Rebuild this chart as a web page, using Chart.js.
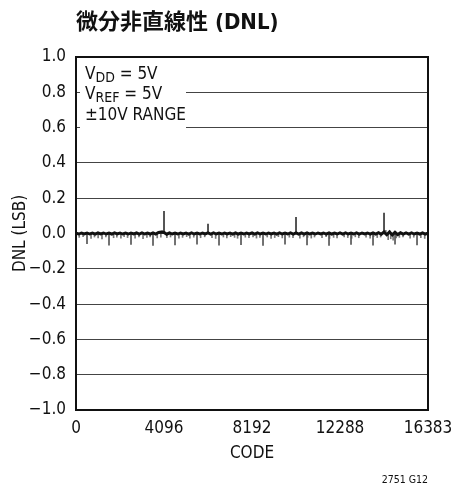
<!DOCTYPE html>
<html>
<head>
<meta charset="utf-8">
<script src="https://cdn.jsdelivr.net/npm/chart.js@4/dist/chart.umd.min.js"></script>
<style>
  html, body { margin: 0; padding: 0; background: #fff; }
  #wrap { width: 452px; height: 487px; }
</style>
</head>
<body>
<div id="wrap"><canvas id="dnl" width="452" height="487"></canvas></div>
<script>
// Axis ticks
const codeTicks = [0, 4096, 8192, 12288, 16383];
const dnlTicks = [-1.0, -0.8, -0.6, -0.4, -0.2, 0.0, 0.2, 0.4, 0.6, 0.8, 1.0];

// Baseline DNL trace, one reading every 128 codes (LSB)
const bandStep = 128;
const bandDnl = [
  0.002, -0.003, 0.003, -0.002, 0.003, -0.003, 0.002, -0.004, 0.003, -0.002, 0.003, -0.003, 0.002, -0.003, 0.004, -0.002,
  0.003, -0.003, 0.002, -0.003, 0.003, -0.002, 0.003, -0.004, 0.003, -0.003, 0.002, -0.003, 0.004, -0.003, 0.006, 0.008,
  0.006, -0.004, 0.003, -0.003, 0.002, -0.003, 0.003, -0.002, 0.003, -0.003, 0.003, -0.003, 0.002, -0.003, 0.003, -0.002,
  0.004, -0.003, 0.003, -0.003, 0.002, -0.003, 0.003, -0.002, 0.003, -0.003, 0.004, -0.003, 0.002, -0.003, 0.003, -0.002,
  0.003, -0.004, 0.003, -0.003, 0.002, -0.003, 0.003, -0.002, 0.003, -0.003, 0.003, -0.003, 0.002, -0.003, 0.003, -0.003,
  0.004, -0.004, 0.003, -0.003, 0.003, -0.003, 0.002, -0.003, 0.003, -0.002, 0.003, -0.003, 0.004, -0.003, 0.002, -0.003,
  0.003, -0.003, 0.003, -0.003, 0.002, -0.003, 0.003, -0.003, 0.003, -0.002, 0.003, -0.003, 0.004, -0.003, 0.005, -0.004,
  0.008, -0.007, 0.009, -0.008, 0.007, -0.006, 0.004, -0.003, 0.003, -0.003, 0.003, -0.003, 0.002, -0.003, 0.004, -0.003,
  0.002
];

// Isolated positive errors at the major code transitions
const peakCodes = [4096, 6144, 10240, 14336];
const peakDnl = [0.125, 0.054, 0.092, 0.116];

// Recurring negative errors every 1024 codes
const dipCodes = [512, 1536, 2560, 3584, 4608, 5632, 6656, 7680, 8704, 9728, 10752, 11776, 12800, 13824, 14848, 15872];
const dipDnl = [-0.058, -0.066, -0.062, -0.068, -0.064, -0.060, -0.066, -0.063, -0.067, -0.061, -0.065, -0.068, -0.062, -0.066, -0.060, -0.064];

// Smaller scattered errors
const minorCodes = [
  150, 330, 700, 860, 1030, 1210, 1390, 1750, 1900, 2090, 2240, 2400, 2750, 2930, 3120, 3300,
  3450, 3780, 3950, 4020, 4230, 4400, 4790, 4960, 5150, 5300, 5480, 5800, 5990, 6330, 6500, 6860,
  7020, 7200, 7380, 7520, 7880, 8050, 8240, 8400, 8560, 8900, 9080, 9250, 9420, 9600, 9930, 10100,
  10420, 10590, 10780, 10950, 11100, 11450, 11640, 11800, 11990, 12150, 12480, 12650, 12830, 13000,
  13160, 13500, 13690, 13850, 14020, 14180, 14420, 14530, 14600, 14650, 14760, 14900, 15050, 15220,
  15550, 15720, 16050, 16230
];
const minorDnl = [
  -0.022, -0.018, -0.028, -0.020, -0.025, -0.030, -0.019, -0.024, -0.021, -0.027, -0.018, -0.023, -0.026, -0.020, -0.029, -0.022,
  -0.019, -0.025, -0.021, 0.016, -0.024, -0.020, -0.027, -0.022, -0.018, -0.026, -0.021, -0.024, -0.019, -0.023, -0.028, -0.020,
  -0.025, -0.018, -0.022, -0.027, -0.021, -0.024, -0.019, -0.026, -0.022, -0.020, -0.028, -0.023, -0.018, -0.025, -0.021, -0.024,
  -0.027, -0.019, -0.022, -0.026, -0.020, -0.024, -0.018, -0.028, -0.022, -0.025, -0.020, -0.023, -0.027, -0.019,
  -0.024, -0.021, -0.026, -0.018, -0.023, -0.020, 0.018, -0.035, 0.015, -0.030, -0.038, -0.025, -0.022, -0.019,
  -0.026, -0.021, -0.024, -0.028
];

const FAMILY = '"DejaVu Sans Condensed", "Liberation Sans", "Noto Sans CJK JP", sans-serif';
const TITLE_FAMILY = '"DejaVu Sans Condensed", "Noto Sans CJK JP", sans-serif';

const toPoints = (xs, ys) => xs.map((x, i) => ({ x: x, y: ys[i] }));
const bandPoints = bandDnl.map((y, i) => ({ x: Math.min(i * bandStep, 16383), y: y }));

const fmtDnl = v => v.toFixed(1).replace('-', '\u2212');

// Condition block in the upper-left corner, drawn over the grid
const conditionsPlugin = {
  id: 'conditions',
  beforeDatasetsDraw(chart) {
    const { ctx, chartArea } = chart;
    const y06 = chart.scales.y.getPixelForValue(0.6);
    const x0 = chartArea.left;
    const t = chartArea.top;
    ctx.save();
    ctx.fillStyle = '#fff';
    ctx.fillRect(x0 + 4, t + 2, 106, y06 + 4 - (t + 2));
    ctx.fillStyle = '#111';
    ctx.textBaseline = 'alphabetic';
    const main = '17px ' + FAMILY;
    const sub = '14px ' + FAMILY;
    const lines = [['V', 'DD', ' = 5V'], ['V', 'REF', ' = 5V'], ['\u00b110V RANGE', '', '']];
    lines.forEach((parts, i) => {
      const by = t + 21.5 + i * 20.8;
      let x = x0 + 9;
      ctx.font = main;
      ctx.fillText(parts[0], x, by);
      x += ctx.measureText(parts[0]).width;
      if (parts[1]) {
        ctx.font = sub;
        ctx.fillText(parts[1], x, by + 3);
        x += ctx.measureText(parts[1]).width;
      }
      if (parts[2]) {
        ctx.font = main;
        ctx.fillText(parts[2], x, by);
      }
    });
    ctx.restore();
  }
};

// Heavy frame around the plotting area
const framePlugin = {
  id: 'frame',
  afterDatasetsDraw(chart) {
    const { ctx, chartArea } = chart;
    ctx.save();
    ctx.strokeStyle = '#111';
    ctx.lineWidth = 2;
    ctx.strokeRect(chartArea.left, chartArea.top, chartArea.right - chartArea.left, chartArea.bottom - chartArea.top);
    ctx.restore();
  }
};

new Chart(document.getElementById('dnl'), {
  type: 'line',
  data: {
    datasets: [
      {
        type: 'line',
        data: bandPoints,
        borderColor: '#111',
        borderWidth: 3,
        pointRadius: 0,
        tension: 0,
        order: 0
      },
      {
        type: 'bar',
        data: toPoints(peakCodes, peakDnl),
        backgroundColor: '#333',
        barThickness: 1,
        grouped: false,
        order: 1
      },
      {
        type: 'bar',
        data: toPoints(dipCodes, dipDnl),
        backgroundColor: '#555',
        barThickness: 1,
        grouped: false,
        order: 2
      },
      {
        type: 'bar',
        data: toPoints(minorCodes, minorDnl),
        backgroundColor: '#777',
        barThickness: 1,
        grouped: false,
        order: 3
      }
    ]
  },
  options: {
    responsive: false,
    animation: false,
    events: [],
    layout: { padding: { left: 0, right: 24, top: 0, bottom: 0 } },
    plugins: {
      legend: { display: false },
      tooltip: { enabled: false },
      title: {
        display: true,
        text: '微分非直線性 (DNL)',
        align: 'start',
        fullSize: false,
        color: '#111',
        font: { family: TITLE_FAMILY, size: 22, weight: 'bold' },
        padding: { top: 10, bottom: 20.6 }
      },
      subtitle: {
        display: true,
        text: '2751 G12',
        position: 'bottom',
        align: 'end',
        fullSize: false,
        color: '#111',
        font: { family: FAMILY, size: 10.5 },
        padding: { top: 0, bottom: 0 }
      }
    },
    scales: {
      x: {
        type: 'linear',
        min: 0,
        max: 16383,
        offset: false,
        afterBuildTicks: s => { s.ticks = codeTicks.map(v => ({ value: v })); },
        afterFit: s => { s.height = 64.4; s.paddingLeft = 0; s.paddingRight = 0; },
        grid: { display: false, drawTicks: false },
        border: { display: false },
        ticks: {
          color: '#111',
          padding: 8,
          maxRotation: 0,
          autoSkip: false,
          font: { family: FAMILY, size: 17 },
          callback: v => String(v)
        },
        title: {
          display: true,
          text: 'CODE',
          color: '#111',
          font: { family: FAMILY, size: 17 },
          padding: { top: 0, bottom: 10.6 }
        }
      },
      y: {
        min: -1,
        max: 1,
        afterBuildTicks: s => { s.ticks = dnlTicks.map(v => ({ value: v })); },
        afterFit: s => { s.width = 76; },
        grid: { color: '#444', lineWidth: 1, drawTicks: false },
        border: { display: false },
        ticks: {
          color: '#111',
          padding: 10,
          autoSkip: false,
          font: { family: FAMILY, size: 17 },
          callback: v => fmtDnl(v)
        },
        title: {
          display: true,
          text: 'DNL (LSB)',
          color: '#111',
          font: { family: FAMILY, size: 17 },
          padding: { top: 10, bottom: 0 }
        }
      }
    }
  },
  plugins: [conditionsPlugin, framePlugin]
});
</script>
</body>
</html>
